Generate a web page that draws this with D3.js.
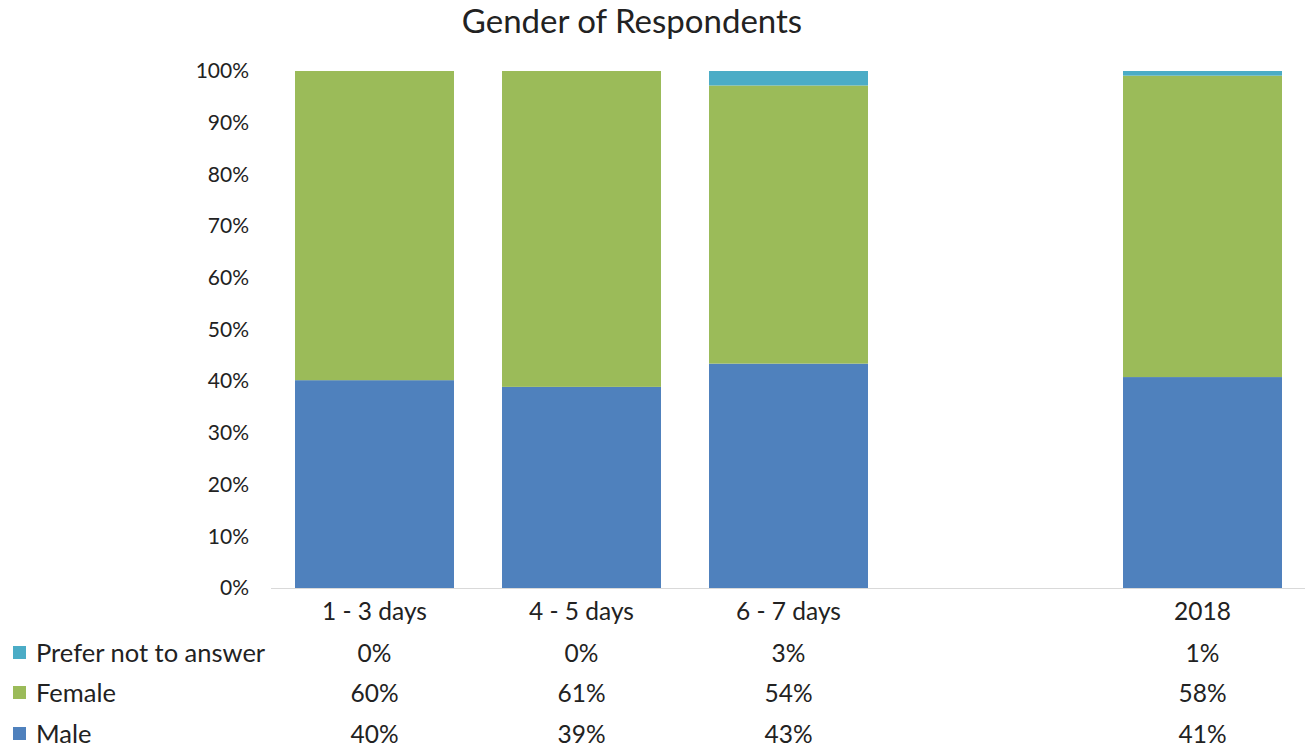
<!DOCTYPE html>
<html>
<head>
<meta charset="utf-8">
<script src="https://cdn.jsdelivr.net/npm/d3@7"></script>
<style>
	body { margin: 0; background: #fff; }
	text { font-family: Lato, "Liberation Sans", Arial, sans-serif; fill: #222; }
</style>
</head>
<body>
<div id="chart"></div>
<script>

var categories = ["1 - 3 days", "4 - 5 days", "6 - 7 days", " ", "2018"]
var male = [40.2, 38.9, 43.4, null, 40.8]
var female = [59.8, 61.1, 53.8, null, 58.3]
var preferNot = [0, 0, 2.8, null, 0.9]
var tableMale = ["40%", "39%", "43%", "", "41%"]
var tableFemale = ["60%", "61%", "54%", "", "58%"]
var tablePrefer = ["0%", "0%", "3%", "", "1%"]
var yTicks = [0, 10, 20, 30, 40, 50, 60, 70, 80, 90, 100]

var seriesNames = ["Male", "Female", "Prefer not to answer"]
var colours = { "Male": "#4f81bd", "Female": "#9bbb59", "Prefer not to answer": "#4bacc6" }

var width = 1305
var height = 747
var margin = {top: 71, right: 0, bottom: 159, left: 271}

var svg = d3.select("#chart").append("svg")
	.attr("width", width)
	.attr("height", height)

svg.append("text")
	.attr("x", 632)
	.attr("y", 33)
	.attr("text-anchor", "middle")
	.style("font-size", "33px")
	.text("Gender of Respondents")

var x = d3.scaleBand().domain(categories).range([margin.left, margin.left + 1035]).paddingInner(0.232).paddingOuter(0.116)
var y = d3.scaleLinear().domain([0, 100]).range([height - margin.bottom, margin.top])

var rows = categories.map(function(c, i) {
	return { cat: c, "Male": male[i] || 0, "Female": female[i] || 0, "Prefer not to answer": preferNot[i] || 0 }
})

var stack = d3.stack().keys(seriesNames)(rows)

var yAxis = d3.axisLeft(y).tickValues(yTicks).tickFormat(function(d) { return d + "%" }).tickSize(0).tickPadding(22)

svg.append("g")
	.attr("transform", "translate(" + margin.left + ",0)")
	.call(yAxis)
	.call(function(g) { g.select(".domain").remove() })
	.selectAll("text")
	.style("font-size", "21px")
	.style("font-family", "Lato, 'Liberation Sans', Arial, sans-serif")
	.attr("fill", "#222")

svg.append("g").selectAll("g")
	.data(stack)
	.enter().append("g")
	.attr("fill", function(d) { return colours[d.key] })
	.selectAll("rect")
	.data(function(d) { return d })
	.enter().append("rect")
	.attr("x", function(d) { return x(d.data.cat) })
	.attr("y", function(d) { return y(d[1]) })
	.attr("width", x.bandwidth())
	.attr("height", function(d) { return y(d[0]) - y(d[1]) })

svg.append("line")
	.attr("x1", margin.left)
	.attr("x2", width)
	.attr("y1", y(0) + 0.5)
	.attr("y2", y(0) + 0.5)
	.attr("stroke", "#d9d9d9")
	.attr("stroke-width", 1)

// category labels
svg.append("g").selectAll("text")
	.data(categories)
	.enter().append("text")
	.attr("x", function(d) { return x(d) + x.bandwidth() / 2 })
	.attr("y", 620)
	.attr("text-anchor", "middle")
	.style("font-size", "24.5px")
	.text(function(d) { return d })

// data table
var tableRows = [
	{ name: "Prefer not to answer", values: tablePrefer, y: 662 },
	{ name: "Female", values: tableFemale, y: 702 },
	{ name: "Male", values: tableMale, y: 743 }
]

var tr = svg.append("g").selectAll("g")
	.data(tableRows)
	.enter().append("g")

tr.append("rect")
	.attr("x", 13)
	.attr("y", function(d) { return d.y - 16 })
	.attr("width", 13)
	.attr("height", 13)
	.attr("fill", function(d) { return colours[d.name] })

tr.append("text")
	.attr("x", 36)
	.attr("y", function(d) { return d.y })
	.style("font-size", "25.5px")
	.text(function(d) { return d.name })

tr.selectAll(".val")
	.data(function(d) { return d.values.map(function(v, i) { return { v: v, cat: categories[i], y: d.y } }) })
	.enter().append("text")
	.attr("class", "val")
	.attr("x", function(d) { return x(d.cat) + x.bandwidth() / 2 })
	.attr("y", function(d) { return d.y })
	.attr("text-anchor", "middle")
	.style("font-size", "24.5px")
	.text(function(d) { return d.v })

</script>
</body>
</html>
